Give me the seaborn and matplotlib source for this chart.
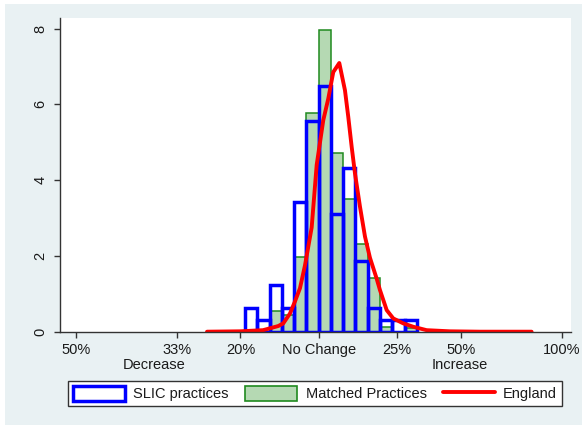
import numpy as np
import matplotlib
matplotlib.use("Agg")
import matplotlib.pyplot as plt
from matplotlib.patches import Patch, Rectangle
from matplotlib.lines import Line2D
import matplotlib.transforms as mtransforms
import seaborn as sns

# histogram bins on the log(ratio) scale, shared by both practice groups
bin_edges = [-0.21, -0.175, -0.14, -0.105, -0.07, -0.035, 0.0, 0.035,
             0.07, 0.105, 0.14, 0.175, 0.21, 0.245, 0.28]
slic_density = [0.62, 0.31, 1.24, 0.62, 3.41, 5.55, 6.48, 3.10,
                4.33, 1.86, 0.62, 0.31, 0.31, 0.31]
matched_density = [0.0, 0.0, 0.55, 0.43, 1.97, 5.76, 7.97, 4.72,
                   3.50, 2.32, 1.41, 0.12, 0.0, 0.10]

# England density curve (log ratio, density)
england_x = [-0.3186, -0.2245, -0.1589, -0.1389, -0.1152, -0.1010, -0.0819,
             -0.0676, -0.0533, -0.0391, -0.0200, -0.0057, 0.0131, 0.0274,
             0.0416, 0.0588, 0.0750, 0.0844, 0.0941, 0.1035, 0.1178, 0.1321,
             0.1463, 0.1654, 0.1748, 0.1940, 0.2128, 0.2413, 0.2698, 0.3080,
             0.3745, 0.4601, 0.6075]
england_y = [0.0, 0.01, 0.04, 0.09, 0.15, 0.22, 0.48, 0.80, 1.15, 1.75, 2.75,
             4.40, 5.58, 6.15, 6.85, 7.09, 6.37, 5.67, 4.88, 4.18, 3.30, 2.51,
             1.95, 1.40, 1.10, 0.57, 0.35, 0.22, 0.13, 0.04, 0.01, 0.0, 0.0]

# x ticks: ratio of after/before, shown on a log axis
tick_ratios = [0.5, 2 / 3, 0.8, 1.0, 1.25, 1.5, 2.0]
tick_labels = ["50%", "33%", "20%", "No Change", "25%", "50%", "100%"]
y_ticks = [0, 2, 4, 6, 8]

BG = "#E9F1F3"
BLUE = "#0000FF"
GREEN_EDGE = "#1F8A1F"
GREEN_FILL = "#B5D9B3"
RED = "#FF0000"
TXT = "#1a1a1a"

sns.set_style("white")
plt.rcParams["font.family"] = ["Liberation Sans", "DejaVu Sans"]
plt.rcParams["font.size"] = 10.5

W, H = 582, 425
fig = plt.figure(figsize=(W / 100, H / 100), dpi=100, facecolor="white")
fig.patches.append(Rectangle((5 / W, 0), 1 - 5 / W, 1 - 4 / H,
                             transform=fig.transFigure, facecolor=BG,
                             edgecolor="none", zorder=-10))

ax = fig.add_axes([60 / W, (H - 331.7) / H, 510.7 / W, 313.4 / H])
ax.set_facecolor("white")

centers = [(a + b) / 2 for a, b in zip(bin_edges[:-1], bin_edges[1:])]

sns.histplot(x=centers, weights=matched_density, bins=bin_edges, stat="count",
             element="bars", fill=True, color=GREEN_FILL, edgecolor=GREEN_EDGE,
             linewidth=1.1, alpha=1, ax=ax)
sns.histplot(x=centers, weights=slic_density, bins=bin_edges, stat="count",
             element="bars", fill=False, color=BLUE, linewidth=2.5, ax=ax)
sns.lineplot(x=england_x, y=england_y, sort=False, color=RED, lw=2.8, ax=ax)

ax.set_xlim(-0.738, 0.719)
ax.set_ylim(0, 8.27)
ax.set_xticks(np.log(tick_ratios))
ax.set_xticklabels(tick_labels)
ax.set_yticks(y_ticks)
ax.set_yticklabels([str(v) for v in y_ticks], rotation=90, va="center")
ax.set_xlabel("")
ax.set_ylabel("")

for side in ["top", "right"]:
    ax.spines[side].set_visible(False)
for side in ["left", "bottom"]:
    ax.spines[side].set_color("#333333")
    ax.spines[side].set_linewidth(1.0)
ax.tick_params(axis="both", direction="out", length=4, width=1.0,
               color="#333333", labelcolor=TXT, labelsize=10.5)
ax.tick_params(axis="x", pad=4, bottom=True)
ax.tick_params(axis="y", pad=5, left=True)

# second line under the outer ticks
trans = mtransforms.blended_transform_factory(ax.transData, ax.transAxes)
ax.text(-0.381, -0.107, "Decrease", transform=trans, ha="right", va="center",
        color=TXT, fontsize=10.5)
ax.text(0.323, -0.107, "Increase", transform=trans, ha="left", va="center",
        color=TXT, fontsize=10.5)

handles = [
    Patch(facecolor="white", edgecolor=BLUE, linewidth=2.5, label="SLIC practices"),
    Patch(facecolor=GREEN_FILL, edgecolor=GREEN_EDGE, linewidth=1.2,
          label="Matched Practices"),
    Line2D([0], [0], color=RED, lw=2.8, label="England"),
]
leg = fig.legend(handles=handles, loc="center", ncol=3,
                 bbox_to_anchor=(315 / W, 1 - 393.5 / H),
                 frameon=True, fancybox=False, framealpha=1,
                 edgecolor="#333333", handlelength=3.6, handleheight=1.2,
                 handletextpad=0.55, columnspacing=1.1, borderpad=0.35,
                 fontsize=10.5)
leg.get_frame().set_linewidth(1.0)
for t in leg.get_texts():
    t.set_color(TXT)

fig.savefig("out.png", dpi=100, facecolor=fig.get_facecolor())
